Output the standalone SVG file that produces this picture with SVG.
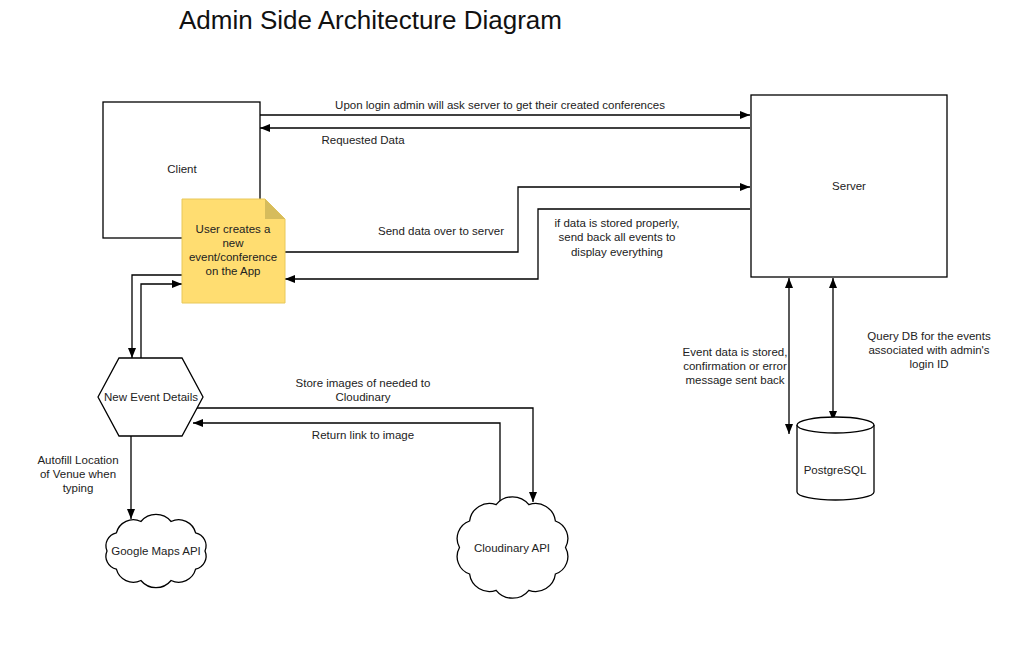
<svg xmlns="http://www.w3.org/2000/svg" width="1024" height="659" viewBox="0 0 1024 659">
<style>
text{font-family:"Liberation Sans",Arial,sans-serif;fill:#222;font-size:11.5px;text-anchor:middle}
.shape{fill:#fff;stroke:#000;stroke-width:1.3}
.c{fill:none;stroke:#000;stroke-width:1.3}
.title{font-size:26px;text-anchor:start;fill:#111}
</style>
<defs>
<marker id="ah" viewBox="0 0 10 8" refX="10" refY="4" markerWidth="11" markerHeight="8" markerUnits="userSpaceOnUse" orient="auto-start-reverse">
<path d="M0,0 L10,4 L0,8 z" fill="#000"/>
</marker>
</defs>
<rect width="1024" height="659" fill="#fff"/>
<text class="title" x="179" y="29">Admin Side Architecture Diagram</text>

<g id="connectors">
<path class="c" d="M260,115 H750" marker-end="url(#ah)"/>
<path class="c" d="M750,128 H260" marker-end="url(#ah)"/>
<path class="c" d="M285,252 H518 V187 H750" marker-end="url(#ah)"/>
<path class="c" d="M750,209 H538 V279 H285" marker-end="url(#ah)"/>
<path class="c" d="M182,275 H132 V358" marker-end="url(#ah)"/>
<path class="c" d="M141,358 V284 H182" marker-end="url(#ah)"/>
<path class="c" d="M197,408 H533 V502" marker-end="url(#ah)"/>
<path class="c" d="M500,502 V423 H193" marker-end="url(#ah)"/>
<path class="c" d="M131,436 V519" marker-end="url(#ah)"/>
<path class="c" d="M789,434 V278" marker-start="url(#ah)" marker-end="url(#ah)"/>
<path class="c" d="M833,421 V278" marker-start="url(#ah)" marker-end="url(#ah)"/>
<text x="500" y="109">Upon login admin will ask server to get their created conferences</text>
<text x="363" y="144">Requested Data</text>
<text x="441" y="235">Send data over to server</text>
<text x="617" y="227">if data is stored properly,</text>
<text x="617" y="241">send back all events to</text>
<text x="617" y="256">display everything</text>
<text x="363" y="387">Store images of needed to</text>
<text x="363" y="401">Cloudinary</text>
<text x="363" y="439">Return link to image</text>
<text x="78" y="464">Autofill Location</text>
<text x="78" y="478">of Venue when</text>
<text x="78" y="492">typing</text>
<text x="735" y="356">Event data is stored,</text>
<text x="735" y="370">confirmation or error</text>
<text x="735" y="384">message sent back</text>
<text x="929" y="340">Query DB for the events</text>
<text x="929" y="354">associated with admin's</text>
<text x="929" y="368">login ID</text>
</g>

<g id="client">
<rect class="shape" x="103" y="102" width="157" height="136"/>
<text x="182" y="173">Client</text>
</g>

<g id="server">
<rect class="shape" x="751" y="95" width="196" height="182"/>
<text x="849" y="190">Server</text>
</g>

<g id="note">
<path d="M182,199 H265 L285,219 V303 H182 Z" fill="#ffdd71" stroke="#e8c85a" stroke-width="1"/>
<path d="M265,199 V219 H285 Z" fill="#d6bc5c"/>
<text x="233" y="233">User creates a</text>
<text x="233" y="247">new</text>
<text x="233" y="261">event/conference</text>
<text x="233" y="275">on the App</text>
</g>

<g id="new-event-details">
<path class="shape" d="M98,397 L119,358 H182 L203,397 L182,436 H119 Z"/>
<text x="151" y="401">New Event Details</text>
</g>

<g id="google-maps">
<path class="shape" d="M107,551 A13.3,13.3 0 0 1 116.4,532.8 A17.5,17.5 0 0 1 140.9,521.5 A19.6,19.6 0 0 1 171.1,521.5 A17.5,17.5 0 0 1 195.6,532.8 A13.3,13.3 0 0 1 205,551 A13.3,13.3 0 0 1 195.6,569.2 A17.5,17.5 0 0 1 171.1,580.5 A19.6,19.6 0 0 1 140.9,580.5 A17.5,17.5 0 0 1 116.4,569.2 A13.3,13.3 0 0 1 107,551 Z"/>
<text x="156" y="555">Google Maps API</text>
</g>

<g id="cloudinary">
<path class="shape" d="M459.5,547.5 A18.5,18.5 0 0 1 469.6,521 A20,20 0 0 1 496.1,504.7 A21,21 0 0 1 528.9,504.7 A20,20 0 0 1 555.4,521 A18.5,18.5 0 0 1 565.5,547.5 A18.5,18.5 0 0 1 555.4,574 A20,20 0 0 1 528.9,590.3 A21,21 0 0 1 496.1,590.3 A20,20 0 0 1 469.6,574 A18.5,18.5 0 0 1 459.5,547.5 Z"/>
<text x="512" y="552">Cloudinary API</text>
</g>

<g id="postgresql">
<path class="shape" d="M797,425 V492 A38.5,8 0 0 0 874,492 V425"/>
<ellipse class="shape" cx="835.5" cy="425" rx="38.5" ry="8"/>
<text x="835" y="474">PostgreSQL</text>
</g>
</svg>
